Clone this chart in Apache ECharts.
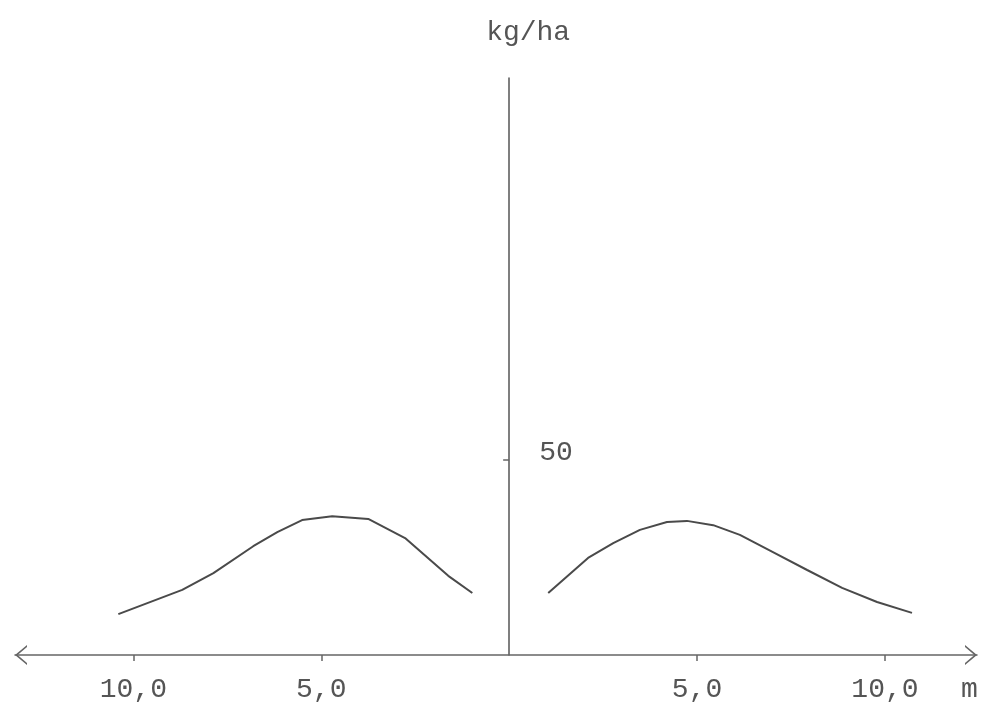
<!DOCTYPE html>
<html>
<head>
<meta charset="utf-8">
<script src="https://cdn.jsdelivr.net/npm/echarts@6/dist/echarts.min.js"></script>
<style>html,body{margin:0;padding:0;background:#fff}#c{width:984px;height:705px}</style>
</head>
<body>
<div id="c"></div>
<script>
// Distances from the centre line (m) and deposit (kg/ha), left side
const leftDist = [10.40, 8.70, 7.87, 6.81, 6.17, 5.51, 4.71, 3.75, 2.77, 1.62, 0.98];
const leftVals = [10.5, 16.7, 21.0, 27.9, 31.5, 34.6, 35.6, 34.9, 30.0, 20.3, 15.9];
// right side
const rightDist = [1.04, 2.10, 2.77, 3.48, 4.20, 4.73, 5.43, 6.14, 7.02, 7.93, 8.86, 9.79, 10.72];
const rightVals = [15.9, 24.9, 28.7, 32.1, 34.1, 34.4, 33.3, 30.8, 26.4, 21.8, 17.2, 13.6, 10.8];
const xTicks = [-10, -5, 5, 10];
const yTicks = [50];
const yName = 'kg/ha';
const xName = 'm';

const FONT = '"Liberation Mono", "DejaVu Sans Mono", monospace';
const INK = '#555';
const chevron = 'path://M0,12 L10,0 L20,12 L18,12 L10,2.6 L2,12 Z';
const XMIN = -13.15, XMAX = 12.45, GL = 15, GR = 7, W = 984;

const chart = echarts.init(document.getElementById('c'), null, {renderer: 'canvas'});
// place the vertical axis at x = 0 of the horizontal scale
const zeroOffset = (0 - XMIN) / (XMAX - XMIN) * (W - GL - GR);
chart.setOption({
  backgroundColor: '#fff',
  animation: false,
  grid: {left: GL, right: GR, top: 78, bottom: 50, containLabel: false, outerBoundsMode: 'none'},
  xAxis: {
    type: 'value', min: XMIN, max: XMAX,
    name: xName, nameLocation: 'end', nameGap: -16,
    nameTextStyle: {fontFamily: FONT, fontSize: 28, color: INK, align: 'left', verticalAlign: 'top', lineHeight: 70},
    axisLine: {show: true, lineStyle: {color: '#666', width: 1.5}, symbol: [chevron, chevron], symbolSize: [20, 12], symbolOffset: [6, -6]},
    axisTick: {show: true, customValues: xTicks, length: 6, lineStyle: {color: '#666', width: 1.5}},
    axisLabel: {customValues: xTicks, margin: 21, fontFamily: FONT, fontSize: 28, color: INK,
      formatter: v => Math.abs(v).toFixed(1).replace('.', ',')},
    splitLine: {show: false}
  },
  yAxis: {
    type: 'value', min: 0, max: 148, position: 'left', offset: -zeroOffset,
    name: yName, nameLocation: 'end', nameGap: 45,
    nameTextStyle: {fontFamily: FONT, fontSize: 28, color: INK, align: 'center', verticalAlign: 'middle', padding: [0, 0, 0, 38]},
    axisLine: {show: true, onZero: false, lineStyle: {color: '#555', width: 1.5}},
    axisTick: {show: true, customValues: yTicks, length: 6, lineStyle: {color: '#666', width: 1.5}},
    axisLabel: {customValues: yTicks, inside: true, margin: 30, fontFamily: FONT, fontSize: 28, color: INK,
      verticalAlign: 'bottom', lineHeight: 14},
    splitLine: {show: false}
  },
  series: [
    {type: 'line', showSymbol: false, data: leftDist.map((d, i) => [-d, leftVals[i]]),
      lineStyle: {color: '#4a4a4a', width: 2}},
    {type: 'line', showSymbol: false, data: rightDist.map((d, i) => [d, rightVals[i]]),
      lineStyle: {color: '#4a4a4a', width: 2}}
  ]
});
</script>
</body>
</html>
